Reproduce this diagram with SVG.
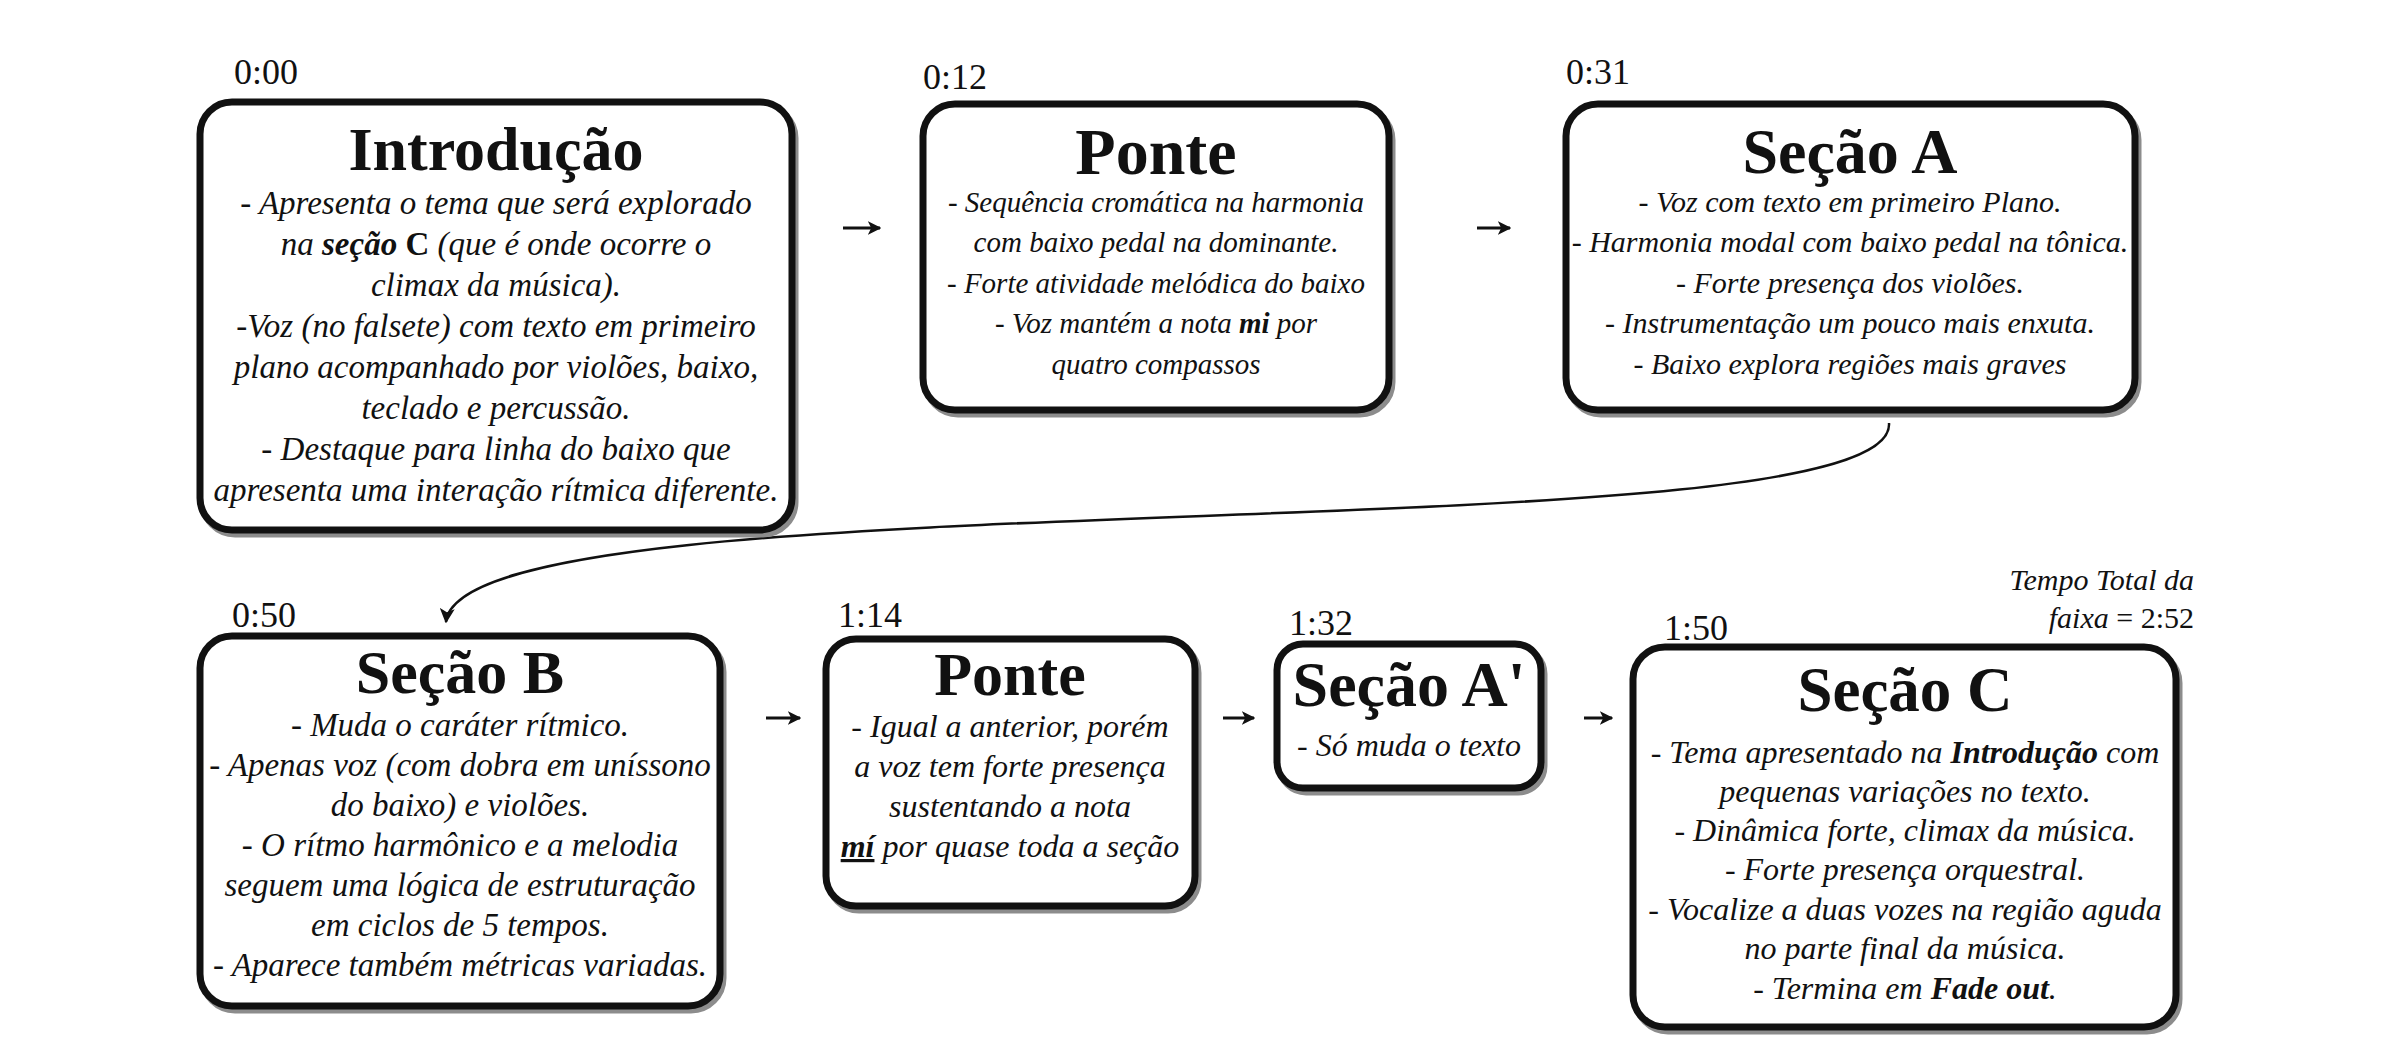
<svg xmlns="http://www.w3.org/2000/svg" width="2407" height="1060" viewBox="0 0 2407 1060">
<defs>
<style>
.box{fill:#fff;stroke:#111;stroke-width:7}
.shadow{fill:none;stroke:#8c8c8c;stroke-width:7}
.t{font-family:"Liberation Serif","Times New Roman",serif;fill:#111}
.title{font-weight:bold;text-anchor:middle}
.body{font-style:italic;text-anchor:middle}
.time{font-size:36px}
.b{font-weight:bold}
.up{font-style:normal}
.conn{fill:none;stroke:#111;stroke-width:3}
</style>
<marker id="ah" viewBox="0 0 10 10" refX="9" refY="5" markerWidth="4.5" markerHeight="4.5" orient="auto" markerUnits="strokeWidth">
<path d="M0,0 L10,5 L0,10 L2.5,5 z" fill="#111"/>
</marker>
<marker id="ah2" viewBox="0 0 10 10" refX="9" refY="5" markerWidth="6" markerHeight="6" orient="auto" markerUnits="strokeWidth">
<path d="M0,0 L10,5 L0,10 L2.5,5 z" fill="#111"/>
</marker>
</defs>
<rect width="2407" height="1060" fill="#fff"/>

<g id="connectors">
<line class="conn" x1="843" y1="228" x2="880" y2="228" marker-end="url(#ah)"/>
<line class="conn" x1="1477" y1="228" x2="1510" y2="228" marker-end="url(#ah)"/>
<path class="conn" style="stroke-width:2.5" d="M1889,423 C1900,560 460,470 446,622" marker-end="url(#ah2)"/>
<line class="conn" x1="766" y1="718" x2="800" y2="718" marker-end="url(#ah)"/>
<line class="conn" x1="1223" y1="718" x2="1254" y2="718" marker-end="url(#ah)"/>
<line class="conn" x1="1584" y1="718" x2="1612" y2="718" marker-end="url(#ah)"/>
</g>

<g id="introducao">
<text class="t time" x="234" y="84">0:00</text>
<rect class="shadow" x="203" y="106" width="592" height="428" rx="32"/>
<rect class="box" x="200" y="102" width="592" height="428" rx="32"/>
<text class="t title" x="496" y="170" font-size="62">Introdução</text>
<g class="t body" font-size="33">
<text x="496" y="214">- Apresenta o tema que será explorado</text>
<text x="496" y="255">na <tspan class="b">seção </tspan><tspan class="b up">C</tspan> (que é onde ocorre o</text>
<text x="496" y="296">climax da música).</text>
<text x="496" y="337">-Voz (no falsete) com texto em primeiro</text>
<text x="496" y="378">plano acompanhado por violões, baixo,</text>
<text x="496" y="419">teclado e percussão.</text>
<text x="496" y="460">- Destaque para linha do baixo que</text>
<text x="496" y="501">apresenta uma interação rítmica diferente.</text>
</g>
</g>

<g id="ponte1">
<text class="t time" x="923" y="89">0:12</text>
<rect class="shadow" x="926" y="108" width="466" height="306" rx="32"/>
<rect class="box" x="923" y="104" width="466" height="306" rx="32"/>
<text class="t title" x="1156" y="174" font-size="66">Ponte</text>
<g class="t body" font-size="29">
<text x="1156" y="212">- Sequência cromática na harmonia</text>
<text x="1156" y="252">com baixo pedal na dominante.</text>
<text x="1156" y="293">- Forte atividade melódica do baixo</text>
<text x="1156" y="333">- Voz mantém a nota <tspan class="b">mi</tspan> por</text>
<text x="1156" y="374">quatro compassos</text>
</g>
</g>

<g id="secaoA">
<text class="t time" x="1566" y="84">0:31</text>
<rect class="shadow" x="1569" y="108" width="569" height="306" rx="32"/>
<rect class="box" x="1566" y="104" width="569" height="306" rx="32"/>
<text class="t title" x="1850" y="173" font-size="64">Seção A</text>
<g class="t body" font-size="30">
<text x="1850" y="212">- Voz com texto em primeiro Plano.</text>
<text x="1850" y="252">- Harmonia modal com baixo pedal na tônica.</text>
<text x="1850" y="293">- Forte presença dos violões.</text>
<text x="1850" y="333">- Instrumentação um pouco mais enxuta.</text>
<text x="1850" y="374">- Baixo explora regiões mais graves</text>
</g>
</g>

<g id="secaoB">
<text class="t time" x="232" y="627">0:50</text>
<rect class="shadow" x="203" y="640" width="520" height="370" rx="32"/>
<rect class="box" x="200" y="636" width="520" height="370" rx="32"/>
<text class="t title" x="460" y="693" font-size="62">Seção B</text>
<g class="t body" font-size="33">
<text x="460" y="736">- Muda o caráter rítmico.</text>
<text x="460" y="776">- Apenas voz (com dobra em uníssono</text>
<text x="460" y="816">do baixo) e violões.</text>
<text x="460" y="856">- O rítmo harmônico e a melodia</text>
<text x="460" y="896">seguem uma lógica de estruturação</text>
<text x="460" y="936">em ciclos de 5 tempos.</text>
<text x="460" y="976">- Aparece também métricas variadas.</text>
</g>
</g>

<g id="ponte2">
<text class="t time" x="838" y="627">1:14</text>
<rect class="shadow" x="829" y="643" width="369" height="267" rx="30"/>
<rect class="box" x="826" y="639" width="369" height="267" rx="30"/>
<text class="t title" x="1010" y="695" font-size="62">Ponte</text>
<g class="t body" font-size="32">
<text x="1010" y="737">- Igual a anterior, porém</text>
<text x="1010" y="777">a voz tem forte presença</text>
<text x="1010" y="817">sustentando a nota</text>
<text x="1010" y="857"><tspan class="b" text-decoration="underline">mí</tspan> por quase toda a seção</text>
</g>
</g>

<g id="secaoA2">
<text class="t time" x="1289" y="635">1:32</text>
<rect class="shadow" x="1280" y="648" width="264" height="144" rx="26"/>
<rect class="box" x="1277" y="644" width="264" height="144" rx="26"/>
<text class="t title" x="1409" y="706" font-size="64">Seção A'</text>
<text class="t body" x="1409" y="756" font-size="32">- Só muda o texto</text>
</g>

<g id="secaoC">
<text class="t time" x="1664" y="640">1:50</text>
<text class="t" x="2194" y="590" font-size="30" font-style="italic" text-anchor="end">Tempo Total da</text>
<text class="t" x="2194" y="628" font-size="30" text-anchor="end"><tspan font-style="italic">faixa</tspan> = 2:52</text>
<rect class="shadow" x="1636" y="651" width="543" height="380" rx="32"/>
<rect class="box" x="1633" y="647" width="543" height="380" rx="32"/>
<text class="t title" x="1905" y="711" font-size="63">Seção C</text>
<g class="t body" font-size="32">
<text x="1905" y="763">- Tema apresentado na <tspan class="b">Introdução</tspan> com</text>
<text x="1905" y="802">pequenas variações no texto.</text>
<text x="1905" y="841">- Dinâmica forte, climax da música.</text>
<text x="1905" y="880">- Forte presença orquestral.</text>
<text x="1905" y="920">- Vocalize a duas vozes na região aguda</text>
<text x="1905" y="959">no parte final da música.</text>
<text x="1905" y="999">- Termina em <tspan class="b">Fade out</tspan>.</text>
</g>
</g>
</svg>
